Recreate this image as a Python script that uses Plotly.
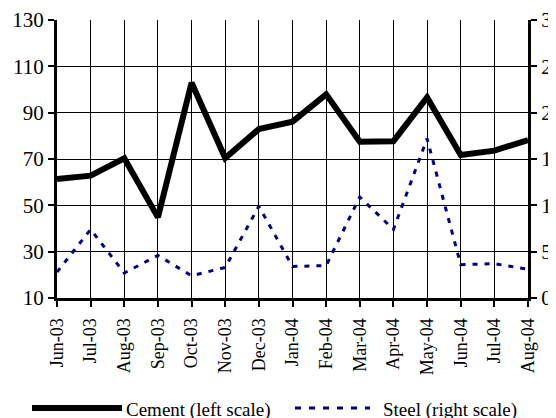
import plotly.graph_objects as go

months = ['Jun-03', 'Jul-03', 'Aug-03', 'Sep-03', 'Oct-03', 'Nov-03', 'Dec-03',
          'Jan-04', 'Feb-04', 'Mar-04', 'Apr-04', 'May-04', 'Jun-04', 'Jul-04', 'Aug-04']
cement = [61.4, 62.8, 70.3, 44.8, 102.9, 70.4, 82.9, 86.1, 97.9, 77.5, 77.7, 96.6, 71.7, 73.6, 78.2]
steel = [2.8, 7.4, 2.7, 4.6, 2.4, 3.3, 9.9, 3.4, 3.5, 10.9, 7.4, 17.2, 3.6, 3.7, 3.1]

left_ticks = [10, 30, 50, 70, 90, 110, 130]
right_ticks = [0, 5, 10, 15, 20, 25, 30]

FONT = 'Liberation Serif'
# the page body has an 8px margin, so the figure is 8px smaller than the window
OFF = 8
W, H = 556 - OFF, 418 - OFF
L, R, T, B = 57 - OFF, 28, 20 - OFF, 120

def px(x):
    # window pixel x -> paper coordinate
    return (x - OFF - L) / (W - L - R)

def py(y):
    # window pixel y -> paper coordinate
    return (H - B - (y - OFF)) / (H - T - B)

fig = go.Figure()
fig.add_trace(go.Scatter(
    x    = months,
    y    = cement,
    mode = 'lines',
    name = 'Cement (left scale)',
    line = dict(color='black', width=6)
))
fig.add_trace(go.Scatter(
    x     = months,
    y     = steel,
    mode  = 'lines',
    name  = 'Steel (right scale)',
    yaxis = 'y2',
    line  = dict(color='#000080', width=3, dash='5px,7px')
))

# legend drawn by hand so the line samples are long, like the original
fig.add_shape(type='line', xref='paper', yref='paper',
              x0=px(32), x1=px(122), y0=py(408), y1=py(408),
              line=dict(color='black', width=6))
fig.add_shape(type='line', xref='paper', yref='paper',
              x0=px(295), x1=px(370), y0=py(408), y1=py(408),
              line=dict(color='#000080', width=3, dash='6px,8px'))
fig.add_annotation(text='Cement (left scale)', xref='paper', yref='paper',
                   x=px(124), y=py(410), xanchor='left', yanchor='middle',
                   showarrow=False, font=dict(size=19))
fig.add_annotation(text='Steel (right scale)', xref='paper', yref='paper',
                   x=px(381), y=py(410), xanchor='left', yanchor='middle',
                   showarrow=False, font=dict(size=19))

axis_common = dict(
    showline = True, linecolor = 'black', linewidth = 3,
    ticks = 'outside', ticklen = 6, tickwidth = 2, tickcolor = 'black',
    zeroline = False, automargin = False
)

fig.update_layout(
    width  = W,
    height = H,
    margin = dict(l=L, r=R, t=T, b=B),
    paper_bgcolor = 'white',
    plot_bgcolor  = 'white',
    font = dict(family=FONT, color='black', size=19),
    showlegend = False,
    xaxis = dict(
        type = 'category',
        range = [0, len(months) - 1],
        tickangle = -90,
        tickfont = dict(size=18),
        ticklabelstandoff = 4,
        showgrid = True, gridcolor = 'black', gridwidth = 1,
        **axis_common
    ),
    yaxis = dict(
        range = [10, 130],
        tickvals = left_ticks,
        tickfont = dict(size=21),
        showgrid = True, gridcolor = 'black', gridwidth = 1,
        **axis_common
    ),
    yaxis2 = dict(
        range = [0, 30],
        tickvals = right_ticks,
        overlaying = 'y',
        side = 'right',
        tickfont = dict(size=21),
        showgrid = False,
        **axis_common
    )
)

fig.write_html('out.html')
